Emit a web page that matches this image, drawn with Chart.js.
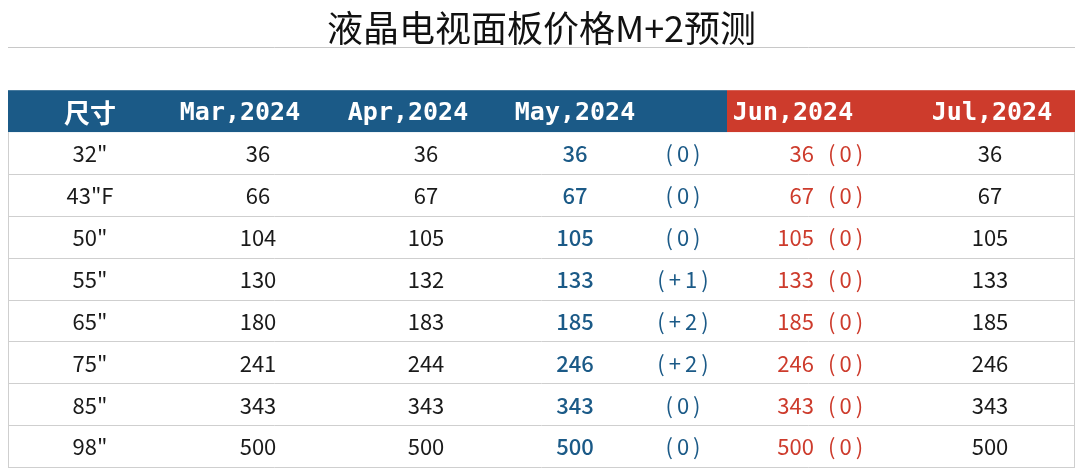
<!DOCTYPE html>
<html>
<head>
<meta charset="utf-8">
<script src="https://cdn.jsdelivr.net/npm/chart.js@4/dist/chart.umd.min.js"></script>
<style>
  html, body { margin: 0; padding: 0; background: #fff; }
  #wrap { width: 1080px; height: 474px; }
</style>
</head>
<body>
<div id="wrap"><canvas id="tbl"></canvas></div>
<script>
// ---- data ----
const headers  = ['尺寸', 'Mar,2024', 'Apr,2024', 'May,2024', '', 'Jun,2024', 'Jul,2024'];
const sizes    = ['32"', '43"F', '50"', '55"', '65"', '75"', '85"', '98"'];
const marVals  = [36, 66, 104, 130, 180, 241, 343, 500];
const aprVals  = [36, 67, 105, 132, 183, 244, 343, 500];
const mayVals  = [36, 67, 105, 133, 185, 246, 343, 500];
const mayChg   = ['0', '0', '0', '+1', '+2', '+2', '0', '0'];
const junVals  = [36, 67, 105, 133, 185, 246, 343, 500];
const junChg   = ['0', '0', '0', '0', '0', '0', '0', '0'];
const julVals  = [36, 67, 105, 133, 185, 246, 343, 500];

// ---- layout / style ----
const BLUE = '#1b5a87';
const RED = '#cd3b2c';
const TEXT = '#1a1a1a';
const colX = [82, 250, 418, 567, 675, 0, 982];   // cell centres on x scale (0..1067)
const headX = [82, 232, 400, 567, 0, 785, 984];  // header centres
const redStart = 719;
const junSplit = 806;
const numFont = '22px "Noto Sans CJK SC", "Liberation Sans", sans-serif';
const headFont = 'bold 25px "DejaVu Sans Mono", monospace';

const rowLabels = ['header'].concat(sizes);

const tablePlugin = {
  id: 'tablePlugin',
  afterDraw(chart) {
    const ctx = chart.ctx;
    const xs = chart.scales.x, ys = chart.scales.y;
    const X = v => xs.getPixelForValue(v);
    const rowH = ys.height / rowLabels.length;
    const left = chart.chartArea.left, right = chart.chartArea.right;

    ctx.save();
    ctx.strokeStyle = '#c8c8c8'; ctx.lineWidth = 1;
    ctx.beginPath(); ctx.moveTo(left, 47.5); ctx.lineTo(right, 47.5); ctx.stroke();

    const hy = ys.getPixelForValue(0);
    ctx.fillStyle = BLUE;
    ctx.fillRect(left, hy - rowH / 2, X(redStart) - left, rowH);
    ctx.fillStyle = RED;
    ctx.fillRect(X(redStart), hy - rowH / 2, right - X(redStart), rowH);

    ctx.fillStyle = '#fff'; ctx.textBaseline = 'middle'; ctx.textAlign = 'center';
    headers.forEach((h, i) => {
      if (!h) return;
      ctx.font = i === 0 ? 'bold 26px "Noto Sans CJK SC", sans-serif' : headFont;
      ctx.fillText(h, X(headX[i]), hy + 2);
    });

    ctx.strokeStyle = '#cfcfcf'; ctx.lineWidth = 1;
    for (let r = 1; r <= sizes.length; r++) {
      const yb = Math.round(ys.getPixelForValue(r) + rowH / 2) + 0.5;
      ctx.beginPath(); ctx.moveTo(left, yb); ctx.lineTo(right, yb); ctx.stroke();
    }
    ctx.beginPath();
    ctx.moveTo(left + 0.5, hy + rowH / 2); ctx.lineTo(left + 0.5, chart.chartArea.bottom);
    ctx.moveTo(right - 0.5, hy + rowH / 2); ctx.lineTo(right - 0.5, chart.chartArea.bottom);
    ctx.stroke();

    // change text "( 0 )" with wide spacing
    const chg = (v, x, align) => {
      ctx.letterSpacing = '4px';
      ctx.textAlign = align;
      ctx.fillText('(' + v + ')', x, y0);
      ctx.letterSpacing = '0px';
    };
    let y0 = 0;

    sizes.forEach((s, i) => {
      const y = ys.getPixelForValue(i + 1) + 1;
      y0 = y;
      ctx.textAlign = 'center';
      ctx.font = numFont; ctx.fillStyle = TEXT;
      ctx.fillText(s, X(colX[0]), y);
      ctx.fillText(String(marVals[i]), X(colX[1]), y);
      ctx.fillText(String(aprVals[i]), X(colX[2]), y);
      ctx.fillStyle = BLUE; ctx.font = '500 ' + numFont;
      ctx.fillText(String(mayVals[i]), X(colX[3]), y);
      ctx.font = numFont;
      chg(mayChg[i], X(colX[4]) + 2, 'center');
      ctx.fillStyle = RED;
      ctx.textAlign = 'right';
      ctx.fillText(String(junVals[i]), X(junSplit), y);
      chg(junChg[i], X(junSplit) + 14, 'left');
      ctx.textAlign = 'center'; ctx.fillStyle = TEXT;
      ctx.fillText(String(julVals[i]), X(colX[6]), y);
    });
    ctx.restore();
  }
};

new Chart(document.getElementById('tbl'), {
  type: 'scatter',
  data: { labels: rowLabels, datasets: [] },
  options: {
    responsive: true,
    maintainAspectRatio: false,
    animation: false,
    layout: { padding: { left: 8, right: 5, bottom: 7, top: 0 } },
    plugins: {
      legend: { display: false },
      tooltip: { enabled: false },
      title: {
        display: true,
        text: '液晶电视面板价格M+2预测',
        color: '#111',
        font: { family: '"Noto Sans CJK SC", sans-serif', size: 36, weight: 'normal' },
        padding: { top: 7, bottom: 40 }
      }
    },
    scales: {
      x: { type: 'linear', min: 0, max: 1067, display: false },
      y: { type: 'category', labels: rowLabels, offset: true, display: false }
    }
  },
  plugins: [tablePlugin]
});
</script>
</body>
</html>
